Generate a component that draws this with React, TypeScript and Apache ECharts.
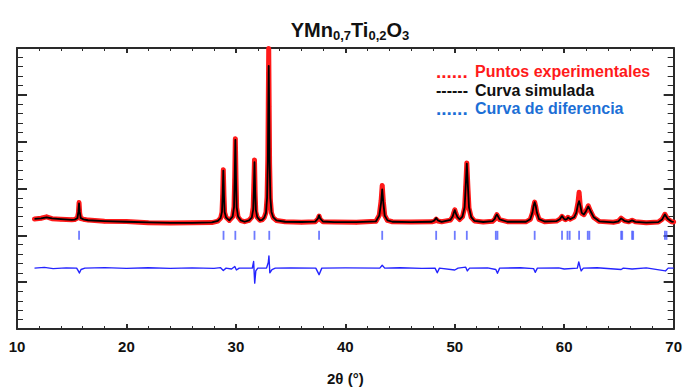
import React, { useEffect, useRef } from "react";
import * as echarts from "echarts";

// Diffraction angle (2θ, degrees) for the observed and refined profiles
const twoTheta = [
  11.6, 12.2, 12.7, 13.2, 14.0, 15.0, 15.27, 15.52, 15.61, 15.67, 15.73, 15.82, 16.07, 16.5,
  18.0, 20.0, 22.0, 24.0, 26.0, 27.8, 28.35, 28.6, 28.73, 28.79, 28.85, 28.91, 28.97, 29.1,
  29.4, 29.7, 29.83, 29.89, 29.95, 30.01, 30.07, 30.2, 30.45, 30.8, 31.2, 31.45, 31.58, 31.64,
  31.7, 31.76, 31.82, 31.95, 32.2, 32.4, 32.6, 32.75, 32.85, 32.92, 32.96, 33.0, 33.04, 33.08,
  33.15, 33.25, 33.4, 33.7, 34.5, 36.0, 37.25, 37.5, 37.6, 37.7, 37.95, 39.0, 41.0, 42.8,
  43.1, 43.27, 43.37, 43.47, 43.6, 43.85, 44.3, 46.0, 47.9, 48.15, 48.3, 48.45, 48.8, 49.6,
  49.8, 49.9, 50.0, 50.1, 50.25, 50.45, 50.7, 50.9, 51.0, 51.1, 51.2, 51.3, 51.5, 51.8,
  52.6, 53.45, 53.65, 53.75, 53.85, 53.95, 54.1, 54.8, 56.5, 56.9, 57.1, 57.2, 57.3, 57.4,
  57.5, 57.7, 58.2, 59.3, 59.6, 59.8, 60.0, 60.12, 60.25, 60.35, 60.55, 60.9, 61.1, 61.26,
  61.36, 61.46, 61.6, 61.8, 62.0, 62.2, 62.4, 62.7, 63.2, 64.5, 64.95, 65.2, 65.5, 65.9,
  66.2, 66.5, 67.5, 68.6, 68.95, 69.2, 69.45, 69.8, 70.0,
];

// Measured intensity (counts)
const observedCounts = [
  2350, 2365, 2395, 2355, 2345, 2335, 2340, 2370, 2480, 2700, 2470, 2360, 2345, 2325,
  2300, 2295, 2270, 2262, 2270, 2272, 2305, 2365, 2490, 2840, 3400, 2860, 2490, 2385,
  2318, 2395, 2610, 3190, 4064, 3230, 2590, 2390, 2315, 2292, 2318, 2390, 2600, 3080,
  3610, 2880, 2500, 2385, 2322, 2330, 2385, 2490, 2820, 3650, 4800, 5990, 4750, 3540,
  2760, 2480, 2380, 2318, 2290, 2282, 2290, 2350, 2410, 2340, 2292, 2285, 2278, 2302,
  2430, 2740, 3064, 2730, 2425, 2318, 2290, 2283, 2288, 2305, 2345, 2305, 2290, 2325,
  2395, 2475, 2545, 2470, 2385, 2338, 2395, 2590, 3040, 3545, 3030, 2580, 2385, 2308,
  2287, 2302, 2340, 2395, 2440, 2395, 2335, 2292, 2288, 2340, 2480, 2615, 2710, 2610,
  2480, 2340, 2292, 2305, 2345, 2405, 2350, 2335, 2352, 2385, 2345, 2390, 2500, 2700,
  2921, 2640, 2470, 2440, 2525, 2630, 2515, 2380, 2298, 2278, 2300, 2365, 2310, 2288,
  2320, 2288, 2270, 2284, 2345, 2450, 2350, 2292, 2285,
];

// Refined (simulated) intensity (counts)
const calculatedCounts = [
  2350, 2360, 2385, 2360, 2345, 2330, 2335, 2365, 2500, 2680, 2500, 2370, 2340, 2322,
  2305, 2290, 2275, 2265, 2267, 2275, 2310, 2370, 2500, 2850, 3383, 2850, 2500, 2380,
  2320, 2400, 2600, 3200, 4040, 3200, 2600, 2400, 2320, 2290, 2320, 2380, 2550, 2950,
  3560, 2950, 2550, 2390, 2320, 2330, 2380, 2480, 2800, 3600, 4700, 5620, 4700, 3600,
  2800, 2500, 2390, 2320, 2290, 2285, 2292, 2360, 2426, 2360, 2295, 2283, 2280, 2300,
  2420, 2700, 2980, 2700, 2420, 2320, 2290, 2280, 2290, 2320, 2370, 2320, 2288, 2330,
  2400, 2470, 2538, 2470, 2390, 2340, 2400, 2600, 3050, 3532, 3050, 2600, 2390, 2310,
  2285, 2305, 2350, 2410, 2447, 2405, 2340, 2290, 2290, 2345, 2490, 2625, 2709, 2625,
  2490, 2345, 2295, 2305, 2345, 2411, 2350, 2335, 2350, 2383, 2345, 2385, 2480, 2660,
  2730, 2650, 2480, 2445, 2520, 2617, 2520, 2385, 2300, 2275, 2300, 2362, 2310, 2288,
  2319, 2288, 2272, 2282, 2340, 2447, 2355, 2295, 2285,
];

// Difference curve (observed − simulated), plotted below the pattern
const diffTwoTheta = [
  11.6, 12.5, 13.3, 14.5, 15.45, 15.6, 15.7, 15.85, 16.2, 18, 20, 22, 24, 26, 28.0, 28.6,
  28.85, 29.1, 29.6, 29.9, 30.05, 30.3, 31.5, 31.62, 31.72, 31.82, 32.0, 32.8, 32.96, 33.02,
  33.1, 33.3, 33.6, 35, 37.3, 37.6, 37.85, 40, 43.15, 43.37, 43.6, 45, 47, 48.2, 48.4, 48.6,
  50.0, 50.3, 51.0, 51.15, 51.35, 53.0, 53.75, 53.9, 54.1, 56, 57.2, 57.35, 57.55, 59.5, 60,
  61.2, 61.33, 61.45, 61.55, 61.75, 63, 65.2, 65.4, 66.2, 67.5, 69.25, 69.5, 70,
];
const diffCounts = [
  0, 15, -10, 5, 0, -60, -105, -30, 0, 10, -5, 8, -5, 5, -5, 10,
  -50, 0, -20, 35, -40, 0, 0, 140, -320, -60, 0, 0, 120, 260,
  -100, -30, 0, 5, 0, -140, 0, 5, 0, 60, 0, 8, -5, 0, -100, 0,
  -40, 0, 20, -60, 0, 5, -30, -110, 0, 8, -10, -90, 0, 5, -20,
  0, 130, 20, -60, 0, 8, -30, 0, -20, 5, -60, 0, 0,
];
const DIFF_OFFSET = 1300;

// Bragg reflection positions (2θ)
const braggPositions = [
  15.67, 28.87, 29.95, 31.7, 33.05, 37.6, 43.37, 48.3, 50.0, 51.1, 53.75, 53.9, 57.3,
  59.8, 60.3, 60.5, 61.36, 62.15, 62.3, 65.2, 65.3, 66.2, 66.3, 69.2, 69.35,
];
const BRAGG_LEVEL = 2000;

const FONT = "'Liberation Sans', Arial, Helvetica, sans-serif";
const AXIS_COLOR = "#2a2a2a";
const RED = "#ff1a1a";

export default function App() {
  const ref = useRef<HTMLDivElement>(null);

  useEffect(() => {
    if (!ref.current) return;
    const chart = echarts.init(ref.current, undefined, { renderer: "svg" });

    const observed = twoTheta.map((t, i) => [t, observedCounts[i]]);
    const calculated = twoTheta.map((t, i) => [t, calculatedCounts[i]]);
    const difference = diffTwoTheta.map((t, i) => [t, diffCounts[i] + DIFF_OFFSET]);
    const bragg = braggPositions.map((t) => [t, BRAGG_LEVEL]);

    const xBase = {
      type: "value" as const,
      min: 10,
      max: 70,
      interval: 10,
      splitLine: { show: false },
      axisLine: { show: true, onZero: false, lineStyle: { color: AXIS_COLOR, width: 2 } },
      minorTick: { show: true, splitNumber: 5, length: 3, lineStyle: { color: AXIS_COLOR, width: 1 } },
      minorSplitLine: { show: false },
    };
    const yBase = {
      type: "value" as const,
      min: 0,
      max: 6000,
      interval: 1000,
      splitLine: { show: false },
      axisLabel: { show: false },
      axisLine: { show: true, onZero: false, lineStyle: { color: AXIS_COLOR, width: 2 } },
      axisTick: { show: true, inside: true, length: 10, lineStyle: { color: AXIS_COLOR, width: 2 } },
      minorTick: { show: true, splitNumber: 5, length: 6, lineStyle: { color: AXIS_COLOR, width: 1 } },
    };

    chart.setOption({
      animation: false,
      backgroundColor: "#ffffff",
      grid: { left: 17, right: 10, top: 48, bottom: 61, containLabel: false },
      xAxis: [
        {
          ...xBase,
          position: "bottom",
          axisTick: { show: true, inside: true, length: 5, lineStyle: { color: AXIS_COLOR, width: 2 } },
          axisLabel: {
            show: true,
            margin: 10,
            color: "#111",
            fontFamily: FONT,
            fontWeight: "bold",
            fontSize: 15,
          },
          name: "2θ (°)",
          nameLocation: "middle",
          nameGap: 42,
          nameTextStyle: { color: "#111", fontFamily: FONT, fontWeight: "bold", fontSize: 15 },
        },
        {
          ...xBase,
          position: "top",
          axisTick: { show: true, inside: true, length: 5, lineStyle: { color: AXIS_COLOR, width: 2 } },
          axisLabel: { show: false },
        },
      ],
      yAxis: [
        { ...yBase, position: "left" },
        { ...yBase, position: "right" },
      ],
      graphic: [
        {
          type: "text",
          x: 350,
          y: 30,
          style: {
            text: "{m|YMn}{s|0,7}{m|Ti}{s|0,2}{m|O}{s|3}",
            align: "center",
            verticalAlign: "middle",
            rich: {
              m: { fontSize: 20, fontWeight: "bold", fontFamily: FONT, fill: "#111" },
              s: { fontSize: 13, fontWeight: "bold", fontFamily: FONT, fill: "#111", padding: [10, 0, 0, 0] },
            },
          },
        },
        {
          type: "text",
          x: 436,
          y: 71,
          style: { text: "......", fontSize: 19, fontWeight: "bold", fontFamily: FONT, fill: RED, verticalAlign: "middle" },
        },
        {
          type: "text",
          x: 475,
          y: 71,
          style: { text: "Puntos experimentales", fontSize: 16, fontWeight: "bold", fontFamily: FONT, fill: RED, verticalAlign: "middle" },
        },
        {
          type: "text",
          x: 436,
          y: 90,
          style: { text: "------", fontSize: 16, fontWeight: "bold", fontFamily: FONT, fill: "#111", verticalAlign: "middle" },
        },
        {
          type: "text",
          x: 475,
          y: 90,
          style: { text: "Curva simulada", fontSize: 16, fontWeight: "bold", fontFamily: FONT, fill: "#111", verticalAlign: "middle" },
        },
        {
          type: "text",
          x: 436,
          y: 108.5,
          style: { text: "......", fontSize: 19, fontWeight: "bold", fontFamily: FONT, fill: "#1c6fd6", verticalAlign: "middle" },
        },
        {
          type: "text",
          x: 475,
          y: 108.5,
          style: { text: "Curva de diferencia", fontSize: 16, fontWeight: "bold", fontFamily: FONT, fill: "#1c6fd6", verticalAlign: "middle" },
        },
      ],
      series: [
        {
          name: "Puntos experimentales",
          type: "line",
          data: observed,
          xAxisIndex: 0,
          yAxisIndex: 0,
          showSymbol: true,
          symbol: "circle",
          symbolSize: 4,
          itemStyle: { color: RED },
          lineStyle: { color: RED, width: 5, join: "round", cap: "round" },
          z: 2,
        },
        {
          name: "Curva simulada",
          type: "line",
          data: calculated,
          xAxisIndex: 0,
          yAxisIndex: 0,
          showSymbol: false,
          symbol: "none",
          lineStyle: { color: "#000000", width: 1.8, join: "round" },
          z: 3,
        },
        {
          name: "Curva de diferencia",
          type: "line",
          data: difference,
          xAxisIndex: 0,
          yAxisIndex: 0,
          showSymbol: false,
          symbol: "none",
          lineStyle: { color: "#2424ff", width: 1.4, join: "round" },
          z: 2,
        },
        {
          name: "Reflexiones de Bragg",
          type: "scatter",
          data: bragg,
          xAxisIndex: 0,
          yAxisIndex: 0,
          symbol: "rect",
          symbolSize: [1.8, 9],
          itemStyle: { color: "#4a5aff" },
          z: 2,
        },
      ],
    });

    return () => chart.dispose();
  }, []);

  return (
    <div
      ref={ref}
      style={{ position: "fixed", left: 0, top: 0, width: 685, height: 391, background: "#fff" }}
    />
  );
}
